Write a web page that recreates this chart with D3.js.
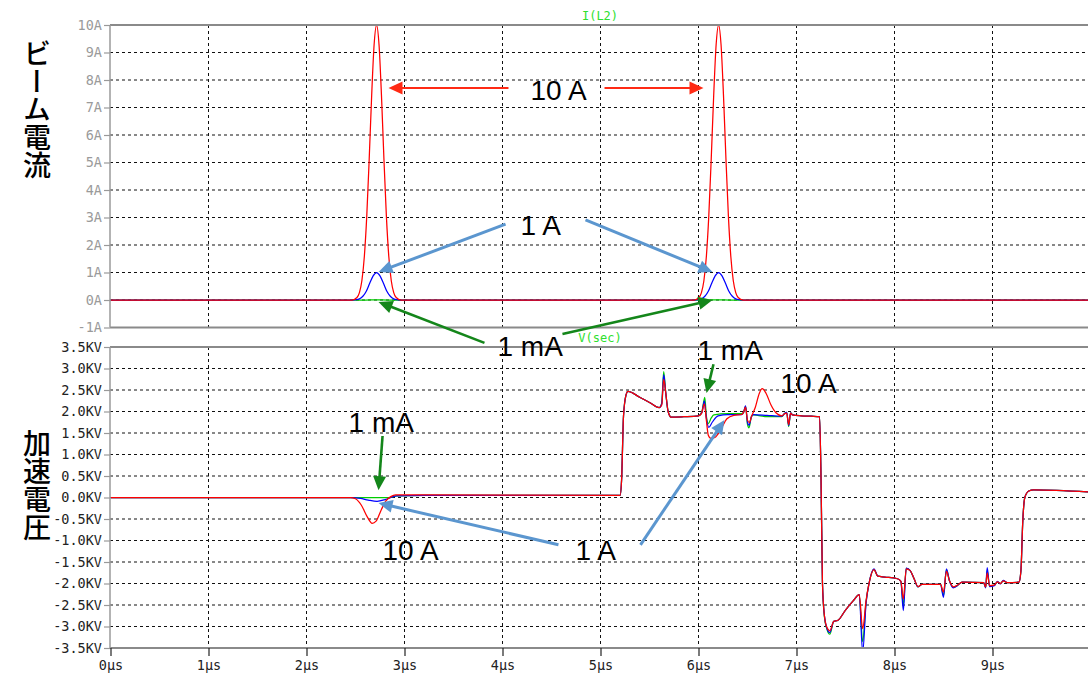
<!DOCTYPE html>
<html>
<head>
<meta charset="utf-8">
<script src="https://cdn.jsdelivr.net/npm/d3@7"></script>
<style>
  body { margin: 0; background: #fff; }
  svg { display: block; }
</style>
</head>
<body>
<svg id="chart" width="1088" height="679"></svg>
<script>
// ---- axis ticks and labels ----
const timeTicks = [0, 1, 2, 3, 4, 5, 6, 7, 8, 9];
const timeLabels = ["0µs", "1µs", "2µs", "3µs", "4µs", "5µs", "6µs", "7µs", "8µs", "9µs"];
const currentTicks = [-1, 0, 1, 2, 3, 4, 5, 6, 7, 8, 9, 10];
const currentLabels = ["-1A", "0A", "1A", "2A", "3A", "4A", "5A", "6A", "7A", "8A", "9A", "10A"];
const voltTicks = [-3.5, -3, -2.5, -2, -1.5, -1, -0.5, 0, 0.5, 1, 1.5, 2, 2.5, 3, 3.5];
const voltLabels = ["-3.5KV", "-3.0KV", "-2.5KV", "-2.0KV", "-1.5KV", "-1.0KV", "-0.5KV", "0.0KV",
                    "0.5KV", "1.0KV", "1.5KV", "2.0KV", "2.5KV", "3.0KV", "3.5KV"];

// ---- beam current I(L2) [µs, A] for the three beam settings ----
const beam10A = [
  [0, 0], [2.465, 0], [2.515, 0.09], [2.54, 0.27], [2.565, 0.70], [2.59, 1.57], [2.615, 3.06],
  [2.64, 5.14], [2.665, 7.44], [2.69, 9.29], [2.715, 10], [2.74, 9.29], [2.765, 7.44], [2.79, 5.14],
  [2.815, 3.06], [2.84, 1.57], [2.865, 0.70], [2.89, 0.27], [2.915, 0.09], [2.965, 0],
  [5.955, 0], [6.005, 0.09], [6.03, 0.27], [6.055, 0.70], [6.08, 1.57], [6.105, 3.06],
  [6.13, 5.14], [6.155, 7.44], [6.18, 9.29], [6.205, 10], [6.23, 9.29], [6.255, 7.44], [6.28, 5.14],
  [6.305, 3.06], [6.33, 1.57], [6.355, 0.70], [6.38, 0.27], [6.405, 0.09], [6.455, 0], [10, 0]
];
const beam1A = [
  [0, 0], [2.465, 0], [2.505, 0.01], [2.54, 0.04], [2.575, 0.135], [2.61, 0.32], [2.645, 0.61],
  [2.68, 0.88], [2.715, 1.0], [2.75, 0.88], [2.785, 0.61], [2.82, 0.32], [2.855, 0.135],
  [2.89, 0.04], [2.925, 0.01], [2.965, 0],
  [5.955, 0], [5.995, 0.01], [6.03, 0.04], [6.065, 0.135], [6.10, 0.32], [6.135, 0.61],
  [6.17, 0.88], [6.205, 1.0], [6.24, 0.88], [6.275, 0.61], [6.31, 0.32], [6.345, 0.135],
  [6.38, 0.04], [6.415, 0.01], [6.455, 0], [10, 0]
];
const beam1mA = [
  [0, 0], [2.6, 0], [2.715, 0.001], [2.83, 0], [6.09, 0], [6.205, 0.001], [6.32, 0], [10, 0]
];

// ---- secondary voltage V(sec) [µs, kV] for the three beam settings ----
const vsec10A = [
  [0, 0], [2.45, 0], [2.50, -0.03], [2.56, -0.18], [2.62, -0.45], [2.67, -0.60], [2.71, -0.55],
  [2.76, -0.30], [2.81, -0.08], [2.86, 0.02], [2.91, 0.06], [3.2, 0.06], [5.20, 0.05],
  [5.215, 0.4], [5.235, 1.9], [5.26, 2.38], [5.28, 2.47], [5.40, 2.33], [5.50, 2.21], [5.60, 2.09],
  [5.625, 2.15], [5.645, 2.75], [5.665, 2.45], [5.69, 2.0], [5.72, 1.87], [5.85, 1.88], [6.0, 1.90],
  [6.03, 1.95], [6.06, 2.18], [6.08, 1.8], [6.10, 1.45], [6.13, 1.37], [6.17, 1.40], [6.22, 1.55],
  [6.29, 1.83], [6.36, 1.91], [6.44, 1.93], [6.46, 1.98], [6.48, 2.10], [6.50, 1.80], [6.52, 1.74],
  [6.54, 1.88], [6.58, 2.10], [6.62, 2.42], [6.65, 2.53], [6.69, 2.42], [6.74, 2.15], [6.79, 1.97],
  [6.85, 1.90], [6.88, 1.95], [6.90, 1.96], [6.92, 1.70], [6.94, 1.96], [6.96, 1.92], [7.05, 1.90],
  [7.15, 1.89], [7.235, 1.88], [7.25, 0.5], [7.265, -2.0], [7.285, -2.75], [7.31, -3.02],
  [7.34, -3.10], [7.38, -2.88], [7.42, -2.86], [7.50, -2.62], [7.58, -2.40], [7.64, -2.26],
  [7.675, -3.05], [7.71, -2.4], [7.74, -2.0], [7.79, -1.68], [7.83, -1.83], [7.90, -1.85],
  [8.03, -1.89], [8.065, -1.95], [8.09, -2.36], [8.12, -1.66], [8.16, -1.70], [8.20, -1.89],
  [8.24, -2.07], [8.28, -2.02], [8.47, -2.02], [8.50, -2.20], [8.53, -1.72], [8.56, -1.93],
  [8.60, -2.08], [8.64, -2.04], [8.69, -1.97], [8.91, -1.98], [8.93, -2.08], [8.946, -1.75],
  [8.97, -2.05], [9.02, -2.03], [9.05, -1.96], [9.08, -2.00], [9.11, -1.94], [9.15, -1.98],
  [9.27, -1.97], [9.29, -1.7], [9.31, -0.5], [9.33, 0.0], [9.37, 0.15], [9.42, 0.18], [10, 0.13]
];
const vsec1A = [
  [0, 0], [2.45, 0], [2.55, -0.02], [2.63, -0.06], [2.72, -0.09], [2.80, -0.05], [2.86, 0.0],
  [2.92, 0.04], [3.2, 0.05], [5.20, 0.05],
  [5.215, 0.4], [5.235, 1.9], [5.26, 2.38], [5.28, 2.47], [5.40, 2.33], [5.50, 2.21], [5.60, 2.09],
  [5.625, 2.18], [5.645, 2.86], [5.665, 2.45], [5.69, 2.0], [5.72, 1.87], [5.85, 1.88], [6.0, 1.90],
  [6.035, 1.98], [6.06, 2.25], [6.08, 1.85], [6.105, 1.63], [6.14, 1.75], [6.20, 1.90], [6.30, 1.93],
  [6.44, 1.93], [6.46, 1.98], [6.48, 2.13], [6.50, 1.75], [6.515, 1.68], [6.54, 1.88], [6.56, 1.93],
  [6.70, 1.91], [6.85, 1.89], [6.88, 1.96], [6.90, 1.98], [6.92, 1.67], [6.94, 1.97], [6.96, 1.92],
  [7.05, 1.90], [7.15, 1.89], [7.235, 1.88], [7.25, 0.5], [7.265, -2.0], [7.285, -2.75],
  [7.31, -3.04], [7.34, -3.14], [7.38, -2.88], [7.42, -2.86], [7.50, -2.62], [7.58, -2.40],
  [7.64, -2.26], [7.675, -3.6], [7.71, -2.45], [7.74, -2.0], [7.79, -1.66], [7.83, -1.83],
  [7.90, -1.85], [8.03, -1.89], [8.065, -1.95], [8.09, -2.63], [8.12, -1.64], [8.16, -1.70],
  [8.20, -1.89], [8.24, -2.08], [8.28, -2.02], [8.47, -2.02], [8.50, -2.32], [8.53, -1.66],
  [8.56, -1.93], [8.60, -2.10], [8.64, -2.05], [8.69, -1.97], [8.91, -1.98], [8.93, -2.10],
  [8.946, -1.63], [8.97, -2.07], [9.02, -2.05], [9.05, -1.95], [9.08, -2.01], [9.11, -1.93],
  [9.15, -1.98], [9.27, -1.97], [9.29, -1.7], [9.31, -0.5], [9.33, 0.0], [9.37, 0.15], [9.42, 0.18],
  [10, 0.13]
];
const vsec1mA = [
  [0, 0], [2.85, 0], [2.92, 0.04], [3.2, 0.05], [5.20, 0.05],
  [5.215, 0.4], [5.235, 1.9], [5.26, 2.38], [5.28, 2.47], [5.40, 2.33], [5.50, 2.21], [5.60, 2.09],
  [5.625, 2.2], [5.645, 2.93], [5.665, 2.45], [5.69, 2.0], [5.72, 1.87], [5.85, 1.88], [6.0, 1.90],
  [6.035, 2.0], [6.064, 2.33], [6.08, 1.9], [6.10, 1.72], [6.13, 1.85], [6.156, 1.92], [6.30, 1.95],
  [6.44, 1.95], [6.46, 1.98], [6.48, 2.12], [6.50, 1.70], [6.515, 1.62], [6.54, 1.88], [6.56, 1.92],
  [6.70, 1.88], [6.85, 1.88], [6.88, 1.96], [6.90, 1.98], [6.92, 1.65], [6.94, 1.97], [6.96, 1.92],
  [7.05, 1.90], [7.15, 1.89], [7.235, 1.88], [7.25, 0.5], [7.265, -2.0], [7.285, -2.78],
  [7.31, -3.06], [7.34, -3.18], [7.38, -2.88], [7.42, -2.86], [7.50, -2.62], [7.58, -2.40],
  [7.64, -2.26], [7.675, -3.35], [7.71, -2.42], [7.74, -2.0], [7.79, -1.67], [7.83, -1.83],
  [7.90, -1.85], [8.03, -1.89], [8.065, -1.95], [8.09, -2.50], [8.12, -1.65], [8.16, -1.70],
  [8.20, -1.89], [8.24, -2.08], [8.28, -2.02], [8.47, -2.02], [8.50, -2.28], [8.53, -1.68],
  [8.56, -1.93], [8.60, -2.09], [8.64, -2.05], [8.69, -1.97], [8.91, -1.98], [8.93, -2.09],
  [8.946, -1.70], [8.97, -2.06], [9.02, -2.04], [9.05, -1.96], [9.08, -2.00], [9.11, -1.94],
  [9.15, -1.98], [9.27, -1.97], [9.29, -1.7], [9.31, -0.5], [9.33, 0.0], [9.37, 0.15], [9.42, 0.18],
  [10, 0.13]
];

// ---- callouts: text in data units of each pane, arrows from tail to tip ----
const topNotes = [
  { text: "10 A", t: 4.286, v: 7.27 },
  { text: "1 A", t: 4.184, v: 2.36 },
  { text: "1 mA", t: 3.949, v: -2.04 }
];
const topArrows = [
  { kind: "10A", from: [4.061, 7.71], to: [2.837, 7.71] },
  { kind: "10A", from: [5.041, 7.71], to: [6.051, 7.71] },
  { kind: "1A", from: [4.031, 2.76], to: [2.735, 1.02] },
  { kind: "1A", from: [4.847, 2.91], to: [6.143, 1.02] },
  { kind: "1mA", from: [3.816, -1.56], to: [2.735, -0.07] },
  { kind: "1mA", from: [4.612, -1.24], to: [6.143, 0.0] }
];
const botNotes = [
  { text: "1 mA", t: 2.429, v: 1.52 },
  { text: "10 A", t: 2.776, v: -1.45 },
  { text: "1 A", t: 4.745, v: -1.45 },
  { text: "1 mA", t: 5.99, v: 3.20 },
  { text: "10 A", t: 6.837, v: 2.43 }
];
const botArrows = [
  { kind: "1mA", from: [2.776, 1.43], to: [2.735, 0.17] },
  { kind: "1A", from: [4.571, -1.10], to: [2.735, -0.13] },
  { kind: "1A", from: [5.408, -1.10], to: [6.265, 1.80] },
  { kind: "1mA", from: [6.153, 3.10], to: [6.082, 2.43] }
];

// ---- styles ----
const traceColor = { "10A": "#ff0000", "1A": "#0000ff", "1mA": "#00cc00" };
const arrowColor = { "10A": "#ff2a14", "1A": "#5b96cf", "1mA": "#14861a" };
const arrowWidth = { "10A": 2, "1A": 3, "1mA": 2.6 };

const svg = d3.select("#chart");
const W = 1088;
const left = 110;

const x = d3.scaleLinear().domain([0, 10]).range([left + 0.5, 1090.5]);
const yTop = d3.scaleLinear().domain([-1, 10]).range([327.5, 25]);
const yBot = d3.scaleLinear().domain([-3.5, 3.5]).range([648, 347]);

const defs = svg.append("defs");
defs.append("clipPath").attr("id", "clipTop")
  .append("rect").attr("x", left).attr("y", 25).attr("width", W - left).attr("height", 302.5);
defs.append("clipPath").attr("id", "clipBot")
  .append("rect").attr("x", left).attr("y", 347).attr("width", W - left).attr("height", 301);

function pane(yScale, ticks, labels, labelColor, clipId, series, name, nameY) {
  const g = svg.append("g");
  const [yMin, yMax] = yScale.domain();
  const yBottom = yScale(yMin), yTopPx = yScale(yMax);

  // dashed grid
  g.append("g").selectAll("line").data(ticks.filter(d => d > yMin && d < yMax)).join("line")
    .attr("x1", left).attr("x2", W).attr("y1", d => yScale(d)).attr("y2", d => yScale(d))
    .attr("stroke", "#111").attr("stroke-width", 1).attr("stroke-dasharray", "3,3");
  g.append("g").selectAll("line").data(timeTicks.filter(d => d > 0)).join("line")
    .attr("x1", d => x(d)).attr("x2", d => x(d)).attr("y1", yTopPx).attr("y2", yBottom)
    .attr("stroke", "#111").attr("stroke-width", 1).attr("stroke-dasharray", "3,3");

  // traces, 1 mA first so the 10 A trace sits on top
  const line = d3.line().x(d => x(d[0])).y(d => yScale(d[1])).curve(d3.curveMonotoneX);
  const tg = g.append("g").attr("clip-path", `url(#${clipId})`);
  series.forEach(s => {
    tg.append("path").attr("d", line(s.data)).attr("fill", "none")
      .attr("stroke", traceColor[s.kind]).attr("stroke-width", 1.25)
      .attr("stroke-linejoin", "round");
  });

  // frame
  g.append("line").attr("x1", left).attr("x2", W).attr("y1", yTopPx).attr("y2", yTopPx)
    .attr("stroke", "#8a8a8a").attr("stroke-width", 2);
  g.append("line").attr("x1", left).attr("x2", W).attr("y1", yBottom).attr("y2", yBottom)
    .attr("stroke", "#8a8a8a").attr("stroke-width", 2);
  g.append("line").attr("x1", left).attr("x2", left).attr("y1", yTopPx).attr("y2", yBottom)
    .attr("stroke", "#9a9a9a").attr("stroke-width", 1.5);

  // y axis
  const ax = d3.axisLeft(yScale).tickValues(ticks)
    .tickFormat((d, i) => labels[i]).tickSize(6).tickPadding(2);
  const axg = g.append("g").attr("transform", `translate(${left},0)`).call(ax);
  axg.select(".domain").remove();
  axg.selectAll(".tick line").attr("stroke", "#999").attr("stroke-width", 1.2);
  axg.selectAll(".tick text").attr("fill", labelColor)
    .attr("font-family", "'DejaVu Sans Mono', monospace").attr("font-size", 13.5);

  // trace name
  g.append("text").attr("x", 600).attr("y", nameY).attr("text-anchor", "middle")
    .attr("fill", "#2ee02e").attr("font-family", "'DejaVu Sans Mono', monospace")
    .attr("font-size", 12).text(name);
  return g;
}

pane(yTop, currentTicks, currentLabels, "#9a9a9a", "clipTop",
  [{ kind: "1mA", data: beam1mA }, { kind: "1A", data: beam1A }, { kind: "10A", data: beam10A }],
  "I(L2)", 20);
pane(yBot, voltTicks, voltLabels, "#222", "clipBot",
  [{ kind: "1mA", data: vsec1mA }, { kind: "1A", data: vsec1A }, { kind: "10A", data: vsec10A }],
  "V(sec)", 342);

// time axis under the lower pane
const xAxis = d3.axisBottom(x).tickValues(timeTicks)
  .tickFormat((d, i) => timeLabels[i]).tickSize(8).tickPadding(4);
const xg = svg.append("g").attr("transform", "translate(0,648)").call(xAxis);
xg.select(".domain").remove();
xg.selectAll(".tick line").attr("stroke", "#222").attr("stroke-width", 1.2);
xg.selectAll(".tick text").attr("fill", "#222")
  .attr("font-family", "'DejaVu Sans Mono', monospace").attr("font-size", 13.5);

// vertical pane titles
function paneTitle(text, cy) {
  svg.append("text").attr("x", 37).attr("y", cy)
    .attr("text-anchor", "middle")
    .style("writing-mode", "vertical-rl")
    .attr("font-family", "'Noto Sans CJK JP', sans-serif")
    .attr("font-size", 28).attr("font-weight", 500).attr("fill", "#000")
    .text(text);
}
paneTitle("ビーム電流", 109);
paneTitle("加速電圧", 485);

// callouts
function callouts(yScale, notes, arrows) {
  const g = svg.append("g");
  arrows.forEach(a => {
    const x1 = x(a.from[0]), y1 = yScale(a.from[1]);
    const x2 = x(a.to[0]), y2 = yScale(a.to[1]);
    const len = Math.hypot(x2 - x1, y2 - y1);
    const ux = (x2 - x1) / len, uy = (y2 - y1) / len;
    const hl = 14, hw = 6.5;
    const bx = x2 - ux * hl, by = y2 - uy * hl;
    g.append("line").attr("x1", x1).attr("y1", y1).attr("x2", bx + ux * 2).attr("y2", by + uy * 2)
      .attr("stroke", arrowColor[a.kind]).attr("stroke-width", arrowWidth[a.kind]);
    g.append("path")
      .attr("d", `M${x2},${y2}L${bx - uy * hw},${by + ux * hw}L${bx + uy * hw},${by - ux * hw}Z`)
      .attr("fill", arrowColor[a.kind]);
  });
  g.selectAll("text").data(notes).join("text")
    .attr("x", d => x(d.t)).attr("y", d => yScale(d.v))
    .attr("font-family", "'Liberation Sans', Arial, sans-serif").attr("font-size", 28)
    .attr("fill", "#000").text(d => d.text);
}
callouts(yTop, topNotes, topArrows);
callouts(yBot, botNotes, botArrows);
</script>
</body>
</html>
